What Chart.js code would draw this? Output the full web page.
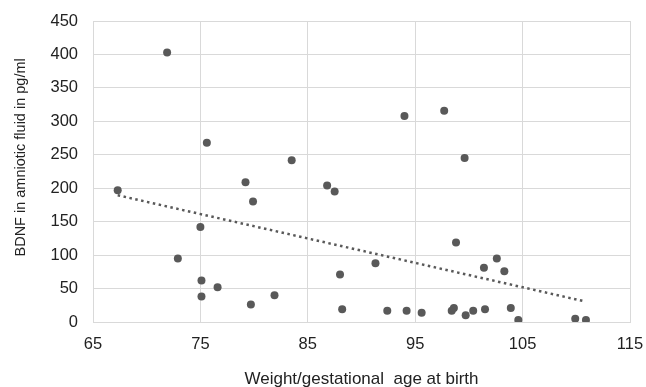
<!DOCTYPE html>
<html><head><meta charset="utf-8">
<script src="https://cdn.jsdelivr.net/npm/chart.js@4/dist/chart.umd.min.js"></script>
<style>html,body{margin:0;padding:0;background:#fff}#wrap{width:646px;height:387px}</style>
</head><body><div id="wrap"><canvas id="c" width="646" height="387"></canvas></div>
<script>
const weightAge = [67.3,71.9,72.9,75.0,75.1,75.1,75.6,76.6,79.2,79.7,79.9,81.9,83.5,86.8,87.5,88.0,88.2,91.3,92.4,94.0,94.2,95.6,97.7,98.4,98.6,98.8,99.6,99.7,100.4,101.4,101.5,102.6,103.3,103.9,104.6,109.9,110.9];
const bdnf = [197,403,95,142,62,38,268,52,209,26,180,40,242,204,195,71,19,88,17,308,17,14,316,17,21,119,245,10,17,81,19,95,76,21,3,5,3];
const trendX = [67.3,110.6];
const trendY = [189.5,31.5];
const xTicks = [65,75,85,95,105,115];
const yTicks = [0,50,100,150,200,250,300,350,400,450];
const xTitle = 'Weight/gestational  age at birth';
const yTitle = 'BDNF in amniotic fluid in pg/ml';

const pts = weightAge.map((x,i)=>({x:x,y:bdnf[i]}));
const trend = trendX.map((x,i)=>({x:x,y:trendY[i]}));
const txt = '#222';
new Chart(document.getElementById('c'),{
  type:'scatter',
  data:{datasets:[
    {data:pts,backgroundColor:'#595959',borderColor:'#595959',pointRadius:4,pointBorderWidth:0,order:1},
    {type:'line',data:trend,showLine:true,borderColor:'#595959',borderWidth:2.5,borderDash:[2.5,3.5],pointRadius:0,fill:false,order:2}
  ]},
  options:{
    responsive:false,animation:false,
    layout:{padding:{top:21,right:16,left:12,bottom:0}},
    plugins:{legend:{display:false},tooltip:{enabled:false}},
    scales:{
      x:{type:'linear',min:65,max:115,
        afterBuildTicks:s=>{s.ticks=xTicks.map(v=>({value:v}));},
        afterFit:s=>{s.height=65;s.paddingLeft=0;s.paddingRight=0;},
        grid:{color:'#d9d9d9',lineWidth:1,drawTicks:false},
        border:{color:'#d9d9d9',width:1},
        ticks:{color:txt,font:{family:'Liberation Sans',size:16.5},padding:13,maxRotation:0},
        title:{display:true,text:xTitle,color:txt,font:{family:'Liberation Sans',size:17},padding:{top:0,bottom:-3}}
      },
      y:{type:'linear',min:0,max:450,
        afterBuildTicks:s=>{s.ticks=yTicks.map(v=>({value:v}));},
        afterFit:s=>{s.width=81;s.paddingTop=0;s.paddingBottom=0;},
        grid:{color:'#d9d9d9',lineWidth:1,drawTicks:false},
        border:{color:'#d9d9d9',width:1},
        ticks:{color:txt,font:{family:'Liberation Sans',size:16.5},padding:15},
        title:{display:true,text:'       '+yTitle,color:txt,font:{family:'Liberation Sans',size:14.5},padding:{top:0,bottom:0}}
      }
    }
  }
});
</script></body></html>
